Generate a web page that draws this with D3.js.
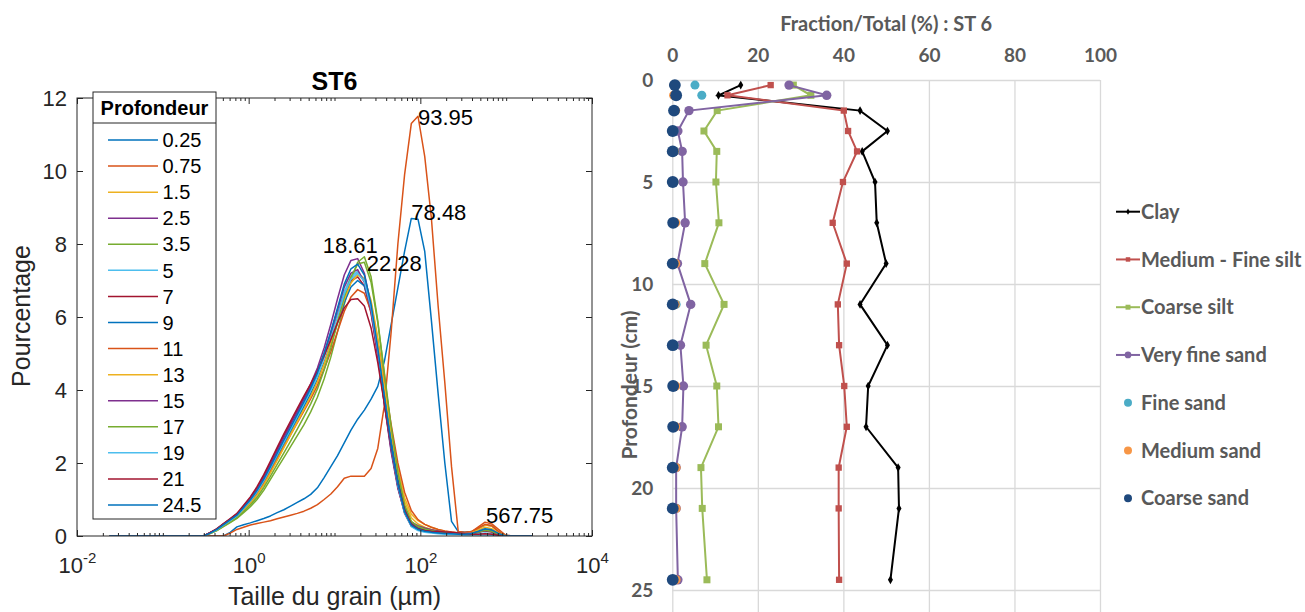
<!DOCTYPE html>
<html><head><meta charset="utf-8">
<script src="https://cdn.jsdelivr.net/npm/d3@7"></script>
<style>body{margin:0;background:#fff;} svg{display:block;}</style>
</head><body>
<svg id="chart" width="1305" height="612"></svg>
<script>
// ================= LEFT CHART DATA (ST6 grain-size distributions) =================
const grainSizes = [0.02393,0.02865,0.03429,0.04105,0.04914,0.05882,0.07041,0.08428,0.1009,0.1208,0.1446,0.1731,0.2072,0.2480,
  0.2969,0.3554,0.4255,0.5093,0.6097,0.7298,0.8736,1.046,1.252,1.499,1.795,2.148,2.572,3.079,3.686,4.412,5.282,6.322,7.568,9.060,10.85,12.99,15.55,
  18.61,22.28,26.67,31.92,38.21,45.74,54.75,65.55,78.48,93.95,112.5,134.6,161.2,192.9,230.9,276.5,331.0,396.2,474.3,567.75,679.6,813.6,974.0,1166,1396,1671,2000];

const depthLabels = ["0.25","0.75","1.5","2.5","3.5","5","7","9","11","13","15","17","19","21","24.5"];

const psd_0_25 = [0,0,0,0,0,0,0,0,0,0,0,0,0,0,0,0,0,
  0,.1,.25,.31,.36,.42,.48,.55,.64,.72, .82,.92,1.02,1.14,1.32,1.6,1.9,2.2,2.55,2.9,
  3.2,3.45,3.75,4.1,4.8,5.8,6.8,7.8,8.7,8.68, 7.8,5.9,3.9,2.0,.4,.12,.1,.12,.2,.3, .28,.12,.02, 0,0,0,0];
const psd_0_75 = [0,0,0,0,0,0,0,0,0,0,0,0,0,0,0,0,0,
  0,.08,.18,.24,.3,.34,.38,.42,.47,.52, .57,.62,.68,.76,.86,1.0,1.15,1.35,1.58,1.64,
  1.64,1.64,1.85,2.4,3.6,5.6,8.0,9.9,11.3,11.5, 10.4,8.7,6.3,4.2,1.9,.12,.1,.12,.25,.38, .33,.18,.03, 0,0,0,0];
const psd_1_5 = [0,0,0,0,0,0,0,0,0,0,0,0,0,0,
  0,.08,.17,.29,.41,.54,.72,.92,1.16,1.45, 1.78,2.12,2.47,2.82,3.16,3.5,3.85,4.22,4.7,5.25,
  5.85,6.5,6.95,7.2,7.05,6.45,5.45,4.2,2.95,1.85, 1.05,.6,.42,.32,.24,.18,.13,.1,.08,.08, .1,.2,.3,.27,.12,0, 0,0,0,0];
const psd_2_5 = [0,0,0,0,0,0,0,0,0,0,0,0,0,0,
  0,.09,.19,.33,.46,.6,.82,1.05,1.32,1.64, 2.0,2.38,2.75,3.1,3.45,3.8,4.17,4.6,5.15,5.8,
  6.5,7.15,7.55,7.6,7.2,6.3,5.0,3.6,2.3,1.3, .65,.35,.25,.2,.15,.12,.1,.08,.07,.06, .08,.12,.16,.13,.05,0, 0,0,0,0];
const psd_3_5 = [0,0,0,0,0,0,0,0,0,0,0,0,0,0,
  0,.07,.15,.26,.37,.48,.64,.8,1.0,1.25, 1.55,1.85,2.15,2.45,2.75,3.05,3.4,3.8,4.3,4.9,
  5.6,6.35,7.0,7.5,7.65,7.1,5.9,4.4,2.9,1.65, .8,.38,.25,.18,.14,.11,.09,.08,.07,.06, .07,.12,.18,.15,.06,0, 0,0,0,0];
const psd_5 = [0,0,0,0,0,0,0,0,0,0,0,0,0,0,
  0,.08,.17,.3,.42,.56,.76,.96,1.21,1.52, 1.87,2.23,2.58,2.93,3.28,3.63,4.0,4.42,4.95,5.5,
  6.1,6.7,7.1,7.25,7.0,6.25,5.1,3.8,2.5,1.42, .66,.28,.17,.12,.1,.08,.07,.06,.05,.04, .04,.06,.08,.06,.02,0, 0,0,0,0];
const psd_7 = [0,0,0,0,0,0,0,0,0,0,0,0,0,0,
  0,.09,.19,.33,.46,.6,.81,1.03,1.3,1.62, 1.98,2.35,2.72,3.07,3.42,3.77,4.12,4.5,4.98,5.5,
  6.05,6.6,6.98,7.1,6.85,6.1,4.95,3.65,2.4,1.35, .62,.27,.18,.14,.12,.1,.09,.08,.07,.06, .07,.1,.14,.11,.04,0, 0,0,0,0];
const psd_9 = [0,0,0,0,0,0,0,0,0,0,0,0,0,0,
  0,.08,.17,.3,.42,.55,.75,.95,1.2,1.5, 1.84,2.19,2.54,2.88,3.22,3.56,3.9,4.28,4.75,5.28,
  5.85,6.4,6.82,7.0,6.85,6.2,5.15,3.9,2.65,1.55, .75,.33,.21,.16,.13,.1,.08,.07,.06,.05, .07,.12,.18,.15,.06,0, 0,0,0,0];
const psd_11 = [0,0,0,0,0,0,0,0,0,0,0,0,0,0,
  0,.08,.17,.29,.41,.53,.72,.91,1.15,1.44, 1.77,2.1,2.44,2.77,3.1,3.43,3.76,4.12,4.57,5.05,
  5.6,6.15,6.55,6.75,6.65,6.15,5.3,4.2,3.05,2.0, 1.2,.7,.45,.32,.24,.18,.14,.11,.09,.09, .12,.22,.32,.28,.12,0, 0,0,0,0];
const psd_13 = [0,0,0,0,0,0,0,0,0,0,0,0,0,0,
  0,.08,.16,.28,.4,.52,.7,.89,1.12,1.4, 1.73,2.07,2.42,2.77,3.12,3.47,3.83,4.23,4.72,5.28,
  5.88,6.48,6.93,7.15,7.0,6.4,5.35,4.1,2.85,1.75, .95,.5,.33,.24,.18,.14,.11,.09,.08,.07, .09,.16,.24,.2,.08,0, 0,0,0,0];
const psd_15 = [0,0,0,0,0,0,0,0,0,0,0,0,0,0,
  0,.09,.18,.32,.45,.59,.8,1.02,1.28,1.6, 1.96,2.33,2.7,3.05,3.4,3.75,4.1,4.5,5.0,5.58,
  6.2,6.82,7.2,7.3,6.95,6.15,4.95,3.6,2.35,1.35, .68,.38,.28,.22,.17,.14,.11,.09,.08,.07, .08,.11,.15,.12,.05,0, 0,0,0,0];
const psd_17 = [0,0,0,0,0,0,0,0,0,0,0,0,0,0,
  0,.07,.15,.27,.38,.5,.67,.85,1.06,1.33, 1.64,1.96,2.28,2.6,2.93,3.27,3.62,4.03,4.55,5.15,
  5.85,6.55,7.1,7.45,7.5,6.95,5.85,4.45,3.0,1.75, .85,.4,.26,.19,.15,.12,.1,.08,.07,.06, .07,.11,.16,.13,.05,0, 0,0,0,0];
const psd_19 = [0,0,0,0,0,0,0,0,0,0,0,0,0,0,
  0,.08,.17,.3,.42,.55,.75,.96,1.21,1.51, 1.86,2.22,2.57,2.92,3.27,3.62,3.98,4.38,4.88,5.43,
  6.03,6.63,7.03,7.2,6.98,6.25,5.1,3.75,2.45,1.38, .63,.26,.15,.1,.08,.06,.05,.04,.04,.03, .03,.03,.03,.02,.01,0, 0,0,0,0];
const psd_21 = [0,0,0,0,0,0,0,0,0,0,0,0,0,0,
  0,.09,.2,.34,.48,.62,.84,1.07,1.35,1.68, 2.05,2.43,2.8,3.15,3.5,3.84,4.17,4.52,4.93,5.38,
  5.85,6.25,6.48,6.5,6.3,5.7,4.75,3.6,2.45,1.45, .72,.32,.2,.15,.13,.12,.11,.1,.08,.06, .05,.05,.06,.05,.02,0, 0,0,0,0];
const psd_24_5 = [0,0,0,0,0,0,0,0,0,0,0,0,0,0,
  0,.08,.18,.31,.44,.57,.78,.99,1.25,1.56, 1.91,2.27,2.63,2.98,3.33,3.68,4.05,4.47,5.0,5.6,
  6.25,6.9,7.32,7.45,7.15,6.35,5.15,3.8,2.5,1.42, .66,.29,.18,.13,.1,.08,.07,.06,.05,.05, .07,.13,.2,.17,.07,0, 0,0,0,0];

const psdSeries = [psd_0_25, psd_0_75, psd_1_5, psd_2_5, psd_3_5, psd_5, psd_7, psd_9, psd_11, psd_13, psd_15, psd_17, psd_19, psd_21, psd_24_5];

const peakLabels = ["93.95","78.48","18.61","22.28","567.75"];
const peakLabelX = [93.95, 78.48, 7.29, 23.7, 582];
const peakLabelY = [11.48, 8.88, 7.97, 7.47, 0.575];

const xTickValuesL = [0.01, 1, 100, 10000];
const xTickExpL = ["-2","0","2","4"];
const yTickValuesL = [0,2,4,6,8,10,12];

// ================= RIGHT CHART DATA (Fraction/Total % : ST 6) =================
const depths = [0.25,0.75,1.5,2.5,3.5,5,7,9,11,13,15,17,19,21,24.5];
const clay         = [16,10.8,43.9,50.3,44.4,47.4,47.8,50.0,43.9,50.3,45.8,45.3,52.8,53.0,51.0];
const medFineSilt  = [23,12.9,40.1,41.1,43.2,39.9,37.5,40.8,38.7,39.0,40.2,40.8,38.9,38.9,39.0];
const coarseSilt   = [28.3,32.4,10.5,7.4,10.4,10.2,10.9,7.6,12.1,7.9,10.4,10.8,6.7,7.0,8.1];
const veryFineSand = [27.3,36.1,3.9,1.3,2.3,2.5,3.0,1.2,4.3,1.9,2.6,2.3,0.9,0.9,1.3];
const fineSand     = [5.3,6.9,0.6,0.4,0.6,0.4,0.5,0.4,0.9,0.5,0.5,0.4,0.3,0.3,0.4];
const mediumSand   = [0.4,0.3,0.8,0.3,0.5,0.4,0.8,0.8,0.7,0.4,0.8,0.8,0.9,0.9,0.9];
const coarseSand   = [0.6,0.9,0.4,0.1,0.1,0.1,0.2,0.1,0.1,0.1,0.2,0.2,0.1,0.1,0.1];
const fractionNames = ["Clay","Medium - Fine silt","Coarse silt","Very fine sand","Fine sand","Medium sand","Coarse sand"];
const xTickValuesR = [0,20,40,60,80,100];
const yTickValuesR = [0,5,10,15,20,25];

// ================= DRAWING =================
const svg = d3.select("#chart");
const defs = svg.append("defs");

// ---------- Left chart ----------
const fontL = "'Liberation Sans', Arial, Helvetica, sans-serif";
const axisColor = "#262626";
const matlabColors = ["#0072BD","#D95319","#EDB120","#7E2F8E","#77AC30","#4DBEEE","#A2142F"];
const L = {left:77, right:592, top:98, bottom:536};
const xL = d3.scaleLog().domain([0.01,10000]).range([L.left, L.right]);
const yL = d3.scaleLinear().domain([0,12]).range([L.bottom, L.top]);
const gL = svg.append("g").attr("font-family", fontL);

defs.append("clipPath").attr("id","clipL").append("rect")
  .attr("x",L.left).attr("y",L.top-2).attr("width",L.right-L.left).attr("height",L.bottom-L.top+2);

const curves = psdSeries.map((vals,i)=>({
  name: depthLabels[i], color: matlabColors[i % 7],
  pts: vals.map((v,j)=>[grainSizes[j], v])
}));
const lineL = d3.line().x(d=>xL(d[0])).y(d=>yL(d[1]));

gL.append("g").attr("clip-path","url(#clipL)")
  .selectAll("path").data(curves).join("path")
  .attr("d", d=>lineL(d.pts)).attr("fill","none")
  .attr("stroke", d=>d.color).attr("stroke-width",1.5).attr("stroke-linejoin","round");

// minor log ticks
const minorX = [];
for (let e=-2; e<4; e++) for (let m=2; m<10; m++) minorX.push(m*Math.pow(10,e));
[-1,1,3].forEach(e=>minorX.push(Math.pow(10,e)));

function styleAxis(g){ g.select(".domain").remove(); g.selectAll("line").attr("stroke",axisColor); }

gL.append("g").attr("transform",`translate(0,${L.bottom})`)
  .call(d3.axisBottom(xL).tickValues(minorX).tickSizeInner(-3).tickSizeOuter(0).tickFormat(""))
  .call(styleAxis);
gL.append("g").attr("transform",`translate(0,${L.top})`)
  .call(d3.axisTop(xL).tickValues(minorX).tickSizeInner(-3).tickSizeOuter(0).tickFormat(""))
  .call(styleAxis);
gL.append("g").attr("transform",`translate(0,${L.top})`)
  .call(d3.axisTop(xL).tickValues(xTickValuesL).tickSizeInner(-6).tickSizeOuter(0).tickFormat(""))
  .call(styleAxis);
gL.append("g").attr("transform",`translate(${L.right},0)`)
  .call(d3.axisRight(yL).tickValues(yTickValuesL).tickSizeInner(-6).tickSizeOuter(0).tickFormat(""))
  .call(styleAxis);

const xAxisL = gL.append("g").attr("transform",`translate(0,${L.bottom})`)
  .call(d3.axisBottom(xL).tickValues(xTickValuesL).tickSizeInner(-6).tickSizeOuter(0).tickFormat(""))
  .call(styleAxis);
xAxisL.selectAll(".tick").each(function(d,i){
  const t = d3.select(this).append("text").attr("y",37).attr("text-anchor","middle")
    .attr("fill",axisColor).attr("font-size",22).attr("font-family",fontL);
  t.append("tspan").text("10");
  t.append("tspan").attr("font-size",15).attr("dy",-10).text(xTickExpL[i]);
});

gL.append("g").attr("transform",`translate(${L.left},0)`)
  .call(d3.axisLeft(yL).tickValues(yTickValuesL).tickSizeInner(-6).tickSizeOuter(0).tickPadding(10))
  .call(styleAxis)
  .call(g=>g.selectAll("text").attr("font-size",22).attr("font-family",fontL).attr("fill",axisColor).attr("dy","0.36em"));

// frame
gL.append("rect").attr("x",L.left).attr("y",L.top).attr("width",L.right-L.left).attr("height",L.bottom-L.top)
  .attr("fill","none").attr("stroke",axisColor).attr("stroke-width",1);

// peak labels
gL.append("g").selectAll("text").data(peakLabels).join("text")
  .attr("x",(d,i)=>xL(peakLabelX[i])).attr("y",(d,i)=>yL(peakLabelY[i]))
  .attr("dy","0.36em").attr("font-size",22).attr("fill","#000").text(d=>d);

// titles
gL.append("text").attr("x",(L.left+L.right)/2).attr("y",90).attr("text-anchor","middle")
  .attr("font-size",25).attr("font-weight","bold").attr("fill","#000").text("ST6");
gL.append("text").attr("x",(L.left+L.right)/2).attr("y",605).attr("text-anchor","middle")
  .attr("font-size",25).attr("fill",axisColor).text("Taille du grain (µm)");
gL.append("text").attr("transform","translate(30,316) rotate(-90)").attr("text-anchor","middle")
  .attr("font-size",25).attr("fill",axisColor).text("Pourcentage");

// legend
const lg = gL.append("g");
lg.append("rect").attr("x",93).attr("y",92).attr("width",123).attr("height",427)
  .attr("fill","#fff").attr("stroke",axisColor).attr("stroke-width",1);
lg.append("line").attr("x1",93).attr("x2",216).attr("y1",123).attr("y2",123).attr("stroke",axisColor);
lg.append("text").attr("x",154.5).attr("y",108).attr("dy","0.36em").attr("text-anchor","middle")
  .attr("font-size",20).attr("font-weight","bold").attr("fill","#000").text("Profondeur");
const lgItems = lg.selectAll("g.item").data(curves).join("g").attr("class","item")
  .attr("transform",(d,i)=>`translate(0,${140 + i*26.07})`);
lgItems.append("line").attr("x1",108).attr("x2",158).attr("stroke",d=>d.color).attr("stroke-width",1.5);
lgItems.append("text").attr("x",162.5).attr("dy","0.36em").attr("font-size",20).attr("fill","#000").text(d=>d.name);

// ---------- Right chart ----------
const fontR = "Lato, 'Open Sans', sans-serif";
const grayText = "#595959";
const gridColor = "#d9d9d9";
const R = {left:672.3, right:1100, top:80, bottom:610.4};
const xR = d3.scaleLinear().domain([0,100]).range([R.left,R.right]);
const yR = d3.scaleLinear().domain([0,26]).range([R.top,R.bottom]);
const gR = svg.append("g").attr("font-family",fontR).attr("font-weight","bold");

gR.append("g").attr("transform",`translate(0,${R.top})`)
  .call(d3.axisTop(xR).tickValues(xTickValuesR).tickSizeInner(-(R.bottom-R.top+5)).tickSizeOuter(0).tickPadding(18))
  .call(g=>{g.select(".domain").remove();
    g.selectAll("line").attr("stroke",gridColor).attr("stroke-width",1.3);
    g.selectAll("text").attr("font-size",19).attr("fill",grayText).attr("font-family",fontR);});
gR.append("g").attr("transform",`translate(${R.left},0)`)
  .call(d3.axisLeft(yR).tickValues(yTickValuesR).tickSizeInner(-(R.right-R.left)).tickSizeOuter(0).tickPadding(19))
  .call(g=>{g.select(".domain").remove();
    g.selectAll("line").attr("stroke",gridColor).attr("stroke-width",1.3);
    g.selectAll("text").attr("font-size",19).attr("fill",grayText).attr("font-family",fontR);});

gR.append("text").attr("x",(R.left+R.right)/2).attr("y",31).attr("text-anchor","middle")
  .attr("font-size",20).attr("fill",grayText).text("Fraction/Total (%) : ST 6");
gR.append("text").attr("transform","translate(637,385) rotate(-90)").attr("text-anchor","middle")
  .attr("font-size",21).attr("fill",grayText).text("Profondeur (cm)");

const fractions = [
  {name:fractionNames[0], vals:clay,         color:"#000000", line:true,  sym:d3.symbolDiamond, size:22},
  {name:fractionNames[1], vals:medFineSilt,  color:"#C0504D", line:true,  sym:d3.symbolSquare,  size:40},
  {name:fractionNames[2], vals:coarseSilt,   color:"#9BBB59", line:true,  sym:d3.symbolSquare,  size:49},
  {name:fractionNames[3], vals:veryFineSand, color:"#8064A2", line:true,  sym:d3.symbolCircle,  size:70},
  {name:fractionNames[4], vals:fineSand,     color:"#4BACC6", line:false, sym:d3.symbolCircle,  size:64},
  {name:fractionNames[5], vals:mediumSand,   color:"#F79646", line:false, sym:d3.symbolCircle,  size:64},
  {name:fractionNames[6], vals:coarseSand,   color:"#1F497D", line:false, sym:d3.symbolCircle,  size:110}
];
const lineR = d3.line().x(d=>xR(d[0])).y(d=>yR(d[1]));
fractions.forEach(f=>{
  const pts = f.vals.map((v,i)=>[v, depths[i]]);
  const g = gR.append("g");
  if (f.line) g.append("path").attr("d",lineR(pts)).attr("fill","none").attr("stroke",f.color).attr("stroke-width",2);
  g.selectAll("path.m").data(pts).join("path").attr("class","m")
    .attr("transform",d=>`translate(${xR(d[0])},${yR(d[1])})`)
    .attr("d",d3.symbol(f.sym, f.size)()).attr("fill",f.color);
});

// right legend
const lgR = gR.append("g");
const lgRItems = lgR.selectAll("g").data(fractions).join("g")
  .attr("transform",(d,i)=>`translate(0,${211.7 + i*47.75})`);
lgRItems.filter(d=>d.line).append("line").attr("x1",1116).attr("x2",1140).attr("stroke",d=>d.color).attr("stroke-width",2);
lgRItems.append("path").attr("transform","translate(1128,0)")
  .attr("d",d=>d3.symbol(d.sym, d.line ? d.size*0.5 : 50)()).attr("fill",d=>d.color);
lgRItems.append("text").attr("x",1141).attr("dy","0.36em").attr("font-size",20).attr("fill",grayText).text(d=>d.name);
</script>
</body></html>
